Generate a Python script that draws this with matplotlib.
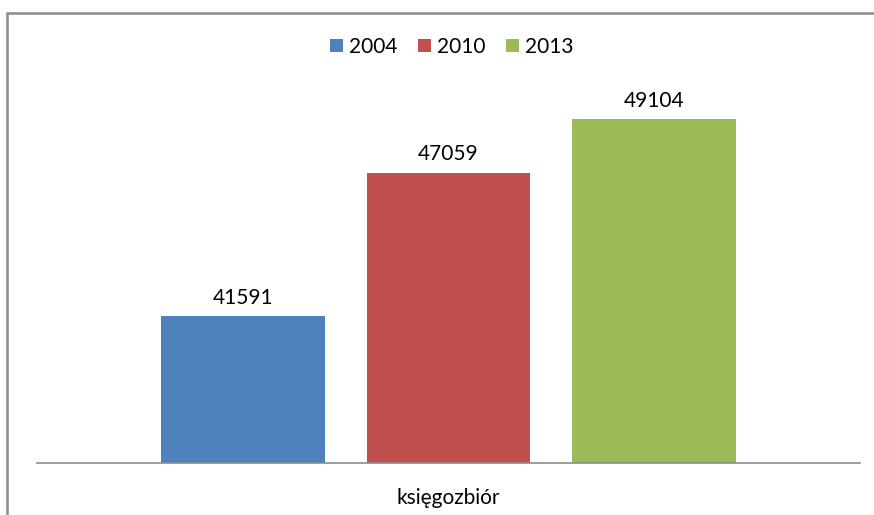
import matplotlib
matplotlib.use("Agg")
import matplotlib.pyplot as plt
from matplotlib.patches import Rectangle

categories = ["księgozbiór"]
series_names = ["2004", "2010", "2013"]
values = [41591, 47059, 49104]
colors = ["#4F81BD", "#C0504D", "#9BBB59"]

W, H = 874, 515
fig = plt.figure(figsize=(W / 100, H / 100), dpi=100)
plt.rcParams['font.family'] = ['Lato', 'DejaVu Sans']

ax = fig.add_axes([37 / W, 1 - 463 / H, (860 - 37) / W, (463 - 96) / H])
bw = 0.199
step = 0.25
for i, (name, v, c) in enumerate(zip(series_names, values, colors)):
    x = (i - 1) * step
    ax.bar(x, v - 36000, bottom=36000, width=bw, color=c, label=name, zorder=2)
    ax.text(x, v + 330, f"{v}", ha="center", va="bottom", fontsize=15, color="#000000")

ax.set_xlim(-0.5, 0.5)
ax.set_ylim(36000, 50000)
for s in ["top", "right", "left"]:
    ax.spines[s].set_visible(False)
ax.spines["bottom"].set_color("#8C8C8C")
ax.spines["bottom"].set_linewidth(1.2)
ax.set_yticks([])
ax.set_xticks([0])
ax.set_xticklabels(categories, fontsize=15)
ax.tick_params(axis="x", length=0, pad=18)

leg = fig.legend(loc="center", bbox_to_anchor=(452 / W, 1 - 47 / H), ncol=3, frameon=False,
                 fontsize=15, handlelength=0.6, handleheight=0.6, handletextpad=0.3,
                 columnspacing=1.0)

fig.patches.append(Rectangle((7 / W, -0.1), 1.0, (H - 13) / H + 0.1, transform=fig.transFigure,
                             fill=False, edgecolor="#8C8C8C", linewidth=1.8))

fig.savefig("out.png", dpi=100)
